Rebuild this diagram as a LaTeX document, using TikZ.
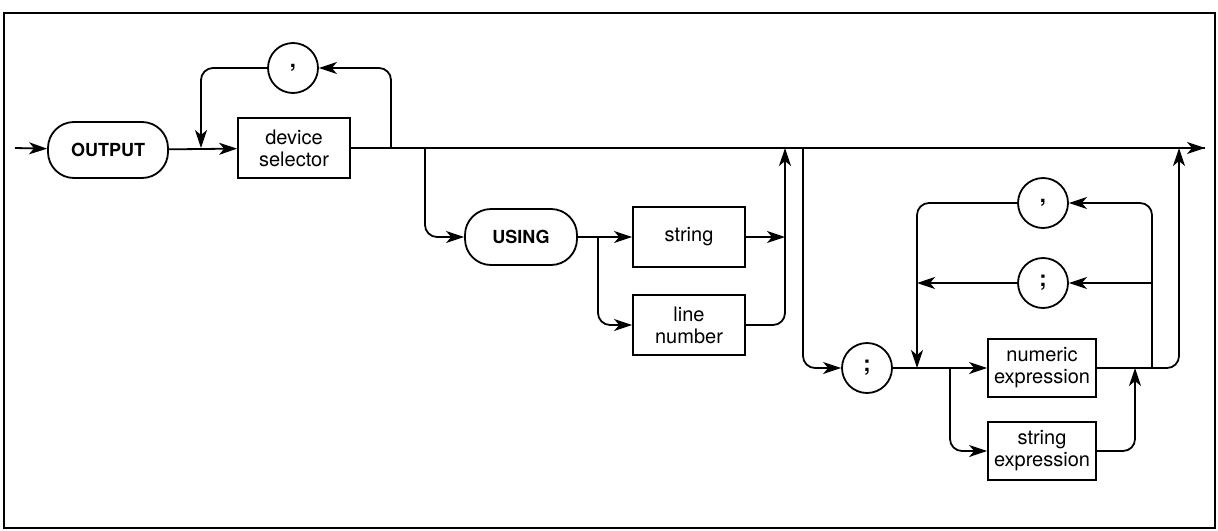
\documentclass[tikz,border=0pt]{standalone}
\usepackage{fontspec}
\setmainfont{TeX Gyre Heros}
\usetikzlibrary{arrows.meta}

\begin{document}
\begin{tikzpicture}[x=0.5pt, y=-0.5pt, line width=0.9pt, font=\fontsize{10}{11}\selectfont,
  box/.style={draw, line width=0.9pt, align=center, minimum width=56pt,
              minimum height=30pt, inner sep=1pt},
  pill/.style={draw, line width=0.9pt, rounded corners=13pt, minimum height=28pt,
               font=\bfseries\fontsize{9}{10}\selectfont},
  circ/.style={draw, circle, line width=0.9pt, minimum size=25pt, inner sep=0pt,
               font=\bfseries\fontsize{11}{11}\selectfont},
  arr/.style={-{Stealth[length=9pt, width=6pt, inset=2.5pt]}, rounded corners=6pt}]
  \useasboundingbox (0,0) rectangle (1218,530);
  \draw[line width=1pt] (4,13) rectangle (1215,528);
  % --- first part: keyword and device selector loop
  \coordinate (start) at (15,148);
  \node[pill, minimum width=60pt] (output) at (108,150) {OUTPUT};
  \node[box] (dev)    at (294,148) {device\\selector};
  \node[circ] (comma) at (293,68)  {,};
  \coordinate (j1) at (201,148);
  \coordinate (j2) at (391,148);
  \coordinate (fin) at (1205,148);
  % --- USING branch
  \coordinate (j3) at (425,148);
  \node[pill, minimum width=56pt] (using) at (521,237) {USING};
  \node[box] (str)  at (689,237) {string};
  \node[box] (lnum) at (689,325) {line\\number};
  \coordinate (j4) at (598,237);
  \coordinate (m1) at (785,237);
  \coordinate (m2) at (785,148);
  % --- expression list branch
  \coordinate (j5) at (803,148);
  \node[circ] (semi)   at (867,368)  {;};
  \node[box, minimum width=54pt, minimum height=29pt] (num)  at (1042,368) {numeric\\expression};
  \node[box, minimum width=54pt, minimum height=29pt] (sexp) at (1042,451) {string\\expression};
  \node[circ] (comma2) at (1043,203) {,};
  \node[circ] (semi2)  at (1043,283) {;};
  \coordinate (j6)  at (917,368);
  \coordinate (j6b) at (917,283);
  \coordinate (j7)  at (950,368);
  \coordinate (j8)  at (1135,368);
  \coordinate (j9)  at (1152,368);
  \coordinate (j9b) at (1152,283);
  \coordinate (j10) at (1179,148);
  % --- connectors
  \draw[arr] (start) -- (output);
  \draw[arr] (output) -- (dev);
  \draw (dev) -- (fin);
  \draw[arr] (j5) -- (fin);
  \draw[arr] (j2) |- (comma.east);
  \draw[arr] (comma.west) -| (j1);
  \draw[arr] (j3) |- (using.west);
  \draw[arr] (using) -- (str);
  \draw[arr] (j4) |- (lnum.west);
  \draw[arr] (str) -- (m1);
  \draw[arr] (lnum.east) -| (m2);
  \draw[arr] (j5) |- (semi.west);
  \draw[arr] (semi) -- (num);
  \draw[arr] (j7) |- (sexp.west);
  \draw[arr] (sexp.east) -| (j8);
  \draw[arr] (num.east) -| (j10);
  \draw[arr] (j9) |- (comma2.east);
  \draw[arr] (j9b) -- (semi2.east);
  \draw[arr] (semi2.west) -- (j6b);
  \draw[arr] (comma2.west) -| (j6);
\end{tikzpicture}
\end{document}
